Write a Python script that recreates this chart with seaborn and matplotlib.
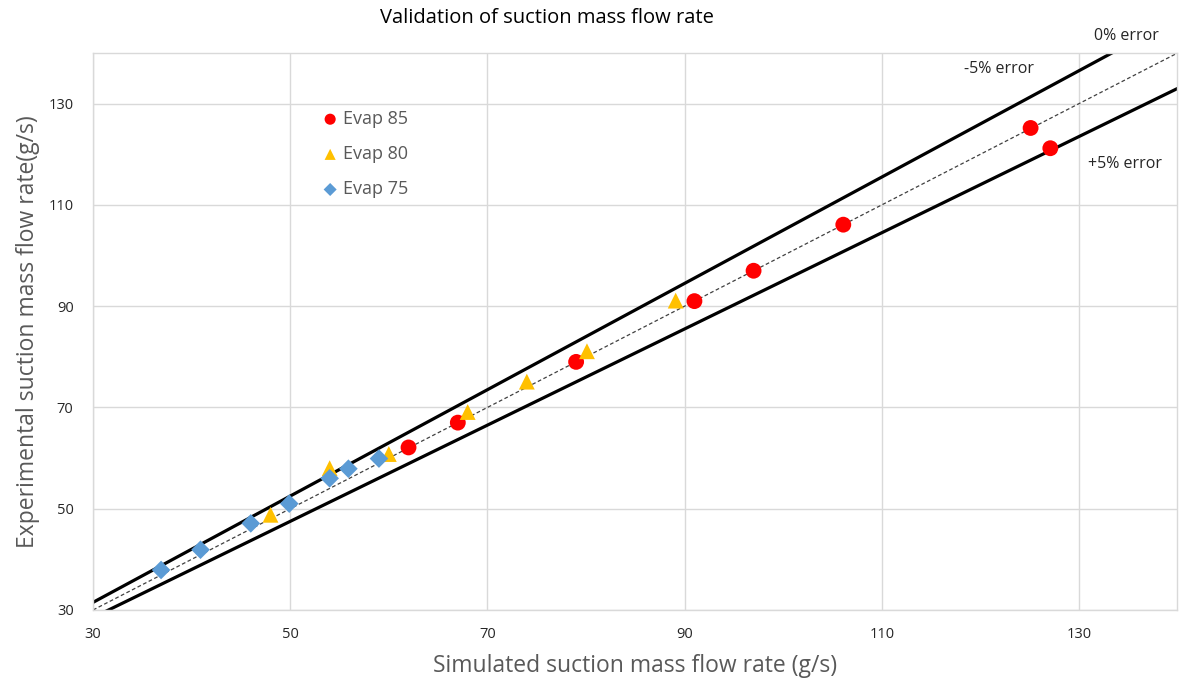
import numpy as np
import pandas as pd
import seaborn as sns
import matplotlib.pyplot as plt

# Data (simulated, experimental) in g/s
evap85_sim = [62, 67, 79, 91, 97, 106.1, 125.1, 127.1]
evap85_exp = [62.1, 67, 79, 91, 97, 106.1, 125.2, 121.2]
evap80_sim = [48, 54, 60, 68, 74, 80.1, 89.1]
evap80_exp = [48.8, 58, 60.8, 69.1, 75.1, 81.1, 91.1]
evap75_sim = [36.9, 40.9, 46, 49.9, 54, 55.9, 59]
evap75_exp = [37.9, 41.9, 47.1, 51, 56, 57.9, 59.9]

series_names = ["Evap 85", "Evap 80", "Evap 75"]
series_colors = ["#FF0000", "#FFC000", "#5B9BD5"]
series_markers = ["o", "^", "D"]

ticks = [30, 50, 70, 90, 110, 130]
line_x = [30, 140]

df = pd.concat([
    pd.DataFrame({"sim": evap85_sim, "exp": evap85_exp, "series": "Evap 85"}),
    pd.DataFrame({"sim": evap80_sim, "exp": evap80_exp, "series": "Evap 80"}),
    pd.DataFrame({"sim": evap75_sim, "exp": evap75_exp, "series": "Evap 75"}),
])

sns.set_style("white")
plt.rcParams['font.family'] = ['Open Sans', 'DejaVu Sans']

fig = plt.figure(figsize=(11.93, 6.8), dpi=100)
ax = fig.add_axes([0.078, 0.103, 0.909, 0.819])

# error lines
lx = np.array(line_x, dtype=float)
ax.plot(lx, lx * 1.05, color="black", lw=2.3, zorder=2)
ax.plot(lx, lx * 0.95, color="black", lw=2.3, zorder=2)
ax.plot(lx, lx, color="#404040", lw=0.9, ls=(0, (3, 2)), zorder=2)

sizes = {"Evap 85": 130, "Evap 80": 130, "Evap 75": 90}
for name, col, mk in zip(series_names, series_colors, series_markers):
    sub = df[df["series"] == name]
    sns.scatterplot(data=sub, x="sim", y="exp", color=col, marker=mk,
                    s=sizes[name], edgecolor="none", ax=ax, zorder=3,
                    label=name)

ax.set_xlim(30, 140)
ax.set_ylim(30, 140)
ax.set_xticks(ticks)
ax.set_yticks(ticks)
ax.tick_params(axis="both", labelsize=10.5, length=0, colors="#262626")
ax.tick_params(axis="x", pad=12)
ax.tick_params(axis="y", pad=14)
ax.grid(True, color="#D9D9D9", lw=1)
for sp in ax.spines.values():
    sp.set_color("#D9D9D9")
    sp.set_linewidth(1)

ax.set_xlabel("Simulated suction mass flow rate (g/s)", fontsize=16.5,
              color="#595959", labelpad=9)
ax.set_ylabel("Experimental suction mass flow rate(g/s)", fontsize=16.5,
              color="#595959", labelpad=6)

fig.text(0.4585, 0.973, "Validation of suction mass flow rate", fontsize=14.5,
         ha="center", va="center", color="black")

fig.text(0.944, 0.947, "0% error", fontsize=11.5, ha="center", va="center")
ax.text(0.835, 0.971, "-5% error", transform=ax.transAxes, fontsize=11.5,
        ha="center", va="center")
ax.text(0.952, 0.80, "+5% error", transform=ax.transAxes, fontsize=11.5,
        ha="center", va="center")

leg = ax.legend(frameon=False, loc="upper left", bbox_to_anchor=(0.187, 0.927),
                fontsize=13, handletextpad=-0.3, labelspacing=0.95,
                markerscale=0.7)
for t in leg.get_texts():
    t.set_color("#595959")

fig.savefig("out.png", dpi=100)
